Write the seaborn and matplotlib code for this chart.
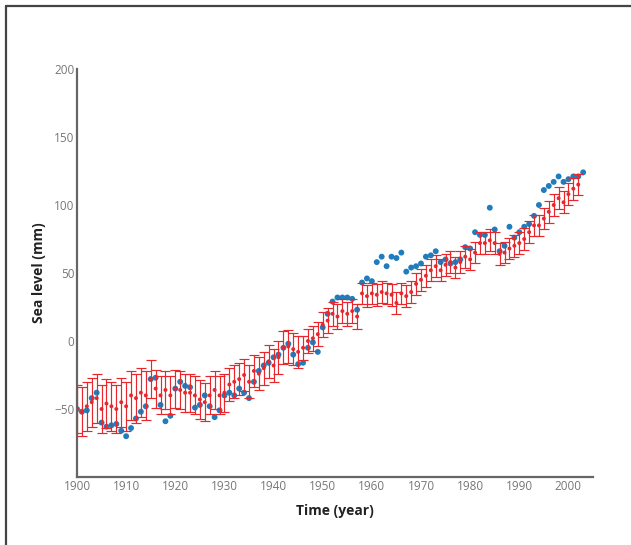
import numpy as np
import pandas as pd
import matplotlib
matplotlib.use("Agg")
import matplotlib.pyplot as plt
import seaborn as sns

# ---- data ----
blue_years = list(range(1900, 2004))
blue_vals = [-50, -52, -51, -42, -38, -60, -63, -62, -61, -66,
             -70, -64, -57, -52, -48, -28, -27, -47, -59, -55,
             -35, -30, -33, -34, -49, -47, -40, -48, -56, -51,
             -40, -38, -40, -35, -38, -42, -30, -22, -18, -16,
             -12, -10, -5, -2, -10, -17, -16, -5, -1, -8,
             10, 20, 29, 32, 32, 32, 31, 23, 43, 46,
             44, 58, 62, 55, 62, 61, 65, 51, 54, 55,
             57, 62, 63, 66, 58, 60, 57, 58, 60, 69,
             68, 80, 78, 78, 98, 82, 66, 70, 84, 76,
             80, 84, 86, 92, 100, 111, 114, 117, 121, 117,
             119, 121, 121, 124]

red_years = list(range(1900, 2003))
red_vals = [-50, -52, -48, -45, -42, -50, -46, -48, -50, -45,
            -48, -40, -42, -38, -40, -28, -35, -40, -36, -40,
            -35, -36, -38, -38, -40, -43, -45, -40, -36, -40,
            -38, -32, -30, -28, -25, -30, -22, -24, -20, -15,
            -18, -12, -5, -4, -6, -8, -5, 0, 2, 5,
            12, 15, 20, 18, 22, 20, 22, 18, 35, 33,
            35, 34, 36, 35, 34, 28, 35, 33, 36, 42,
            45, 48, 52, 55, 52, 56, 58, 54, 58, 62,
            60, 65, 72, 72, 74, 72, 64, 65, 68, 70,
            72, 75, 80, 85, 85, 90, 95, 100, 105, 102,
            108, 112, 115]
red_err = [18, 18, 18, 18, 18, 18, 18, 18, 18, 18,
           18, 18, 18, 18, 18, 14, 14, 14, 14, 14,
           14, 14, 14, 14, 14, 14, 14, 14, 14, 14,
           14, 12, 12, 12, 12, 12, 12, 12, 12, 12,
           12, 12, 12, 12, 12, 12, 9, 9, 9, 9,
           9, 9, 9, 9, 9, 9, 9, 9, 8, 8,
           8, 8, 8, 8, 8, 8, 8, 8, 8, 8,
           8, 8, 8, 8, 8, 8, 8, 8, 8, 8,
           8, 8, 8, 8, 8, 8, 8, 8, 8, 8,
           8, 8, 8, 8, 8, 8, 8, 8, 8, 8,
           8, 8, 8]

x_ticks = [1900, 1910, 1920, 1930, 1940, 1950, 1960, 1970, 1980, 1990, 2000]
y_ticks = [-50, 0, 50, 100, 150, 200]

blue_df = pd.DataFrame({"year": blue_years, "level": blue_vals})
red_df = pd.DataFrame({"year": red_years, "level": red_vals, "err": red_err})

sns.set_style("white")
plt.rcParams["font.family"] = ["Open Sans", "DejaVu Sans"]

fig = plt.figure(figsize=(6.31, 5.45), dpi=100)
ax = fig.add_axes([77 / 631, 1 - 477 / 545, (593 - 77) / 631, (477 - 69) / 545])

red = "#e8262c"
blue = "#1f7dbd"

sns.scatterplot(data=blue_df, x="year", y="level", ax=ax, color=blue,
                s=18, edgecolor="none", zorder=2)
ax.errorbar(red_df["year"], red_df["level"], yerr=red_df["err"], fmt="none",
            ecolor=red, elinewidth=0.85, capsize=3.5, capthick=0.85, zorder=3)
sns.scatterplot(data=red_df, x="year", y="level", ax=ax, color=red,
                s=8, edgecolor="none", zorder=4)

ax.set_xlim(1900, 2005)
ax.set_ylim(-100, 200)
ax.set_xticks(x_ticks)
ax.set_yticks(y_ticks)
ax.tick_params(direction="in", length=4, width=1, colors="#555555",
               labelsize=8.5, pad=2)
ax.tick_params(axis="both", labelcolor="#777777")
for s in ["top", "right"]:
    ax.spines[s].set_visible(False)
for s in ["left", "bottom"]:
    ax.spines[s].set_color("#666666")
    ax.spines[s].set_linewidth(1.6)

ax.set_xlabel("Time (year)", fontsize=10, fontweight="bold", color="#222222", labelpad=8)
ax.set_ylabel("Sea level (mm)", fontsize=10, fontweight="bold", color="#222222", labelpad=6)

# outer frame (top and left lines)
fig.add_artist(plt.Line2D([6 / 631, 6 / 631], [0, 1 - 6 / 545], transform=fig.transFigure,
                          color="#444444", linewidth=1.6))
fig.add_artist(plt.Line2D([6 / 631, 1], [1 - 6 / 545, 1 - 6 / 545], transform=fig.transFigure,
                          color="#444444", linewidth=1.6))

fig.savefig("out.png", dpi=100)
